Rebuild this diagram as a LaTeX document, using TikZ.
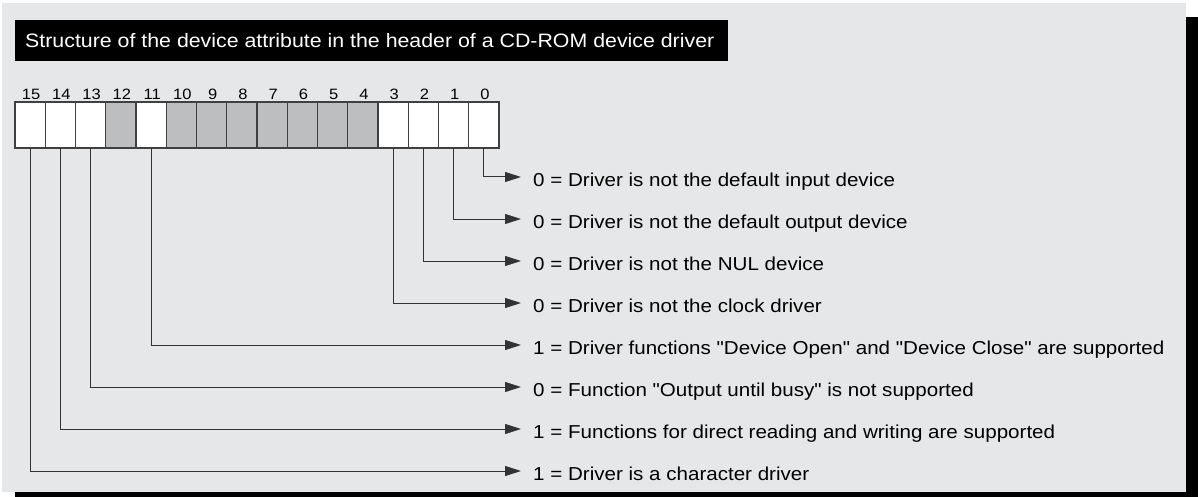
\documentclass[tikz,border=0pt]{standalone}
\usepackage{fontspec}
\setmainfont{Liberation Sans}[FakeStretch=1.1,Ligatures=TeXOff]
\usetikzlibrary{arrows.meta,positioning,calc}
\definecolor{panelgrey}{HTML}{E6E7E8}
\definecolor{cellgrey}{HTML}{BCBEC0}

\begin{document}
\begin{tikzpicture}[x=1pt,y=-1pt,
  bitbox/.style={draw=black!75,line width=1.2pt,minimum width=30.25pt,minimum height=46pt,inner sep=0pt,outer sep=0pt},
  bitnum/.style={anchor=base,inner sep=0pt,font=\fontsize{15}{16}\selectfont},
  desc/.style={anchor=base west,inner xsep=12pt,inner ysep=0pt,font=\fontsize{18.7}{20}\selectfont},
  conn/.style={draw=black!80,line width=1pt,-{Triangle[length=16pt,width=10pt]}}]
  \useasboundingbox (0,0) rectangle (1198,497);
  \fill[black] (15,17) rectangle (1198,497); % Schatten
  \fill[panelgrey] (2,3) rectangle (1186,492);
  \node[fill=black,text=white,anchor=north west,minimum height=41pt,inner sep=0pt,
        font=\fontsize{19.4}{21}\selectfont] (title) at (15,20)
        {\makebox[713pt][l]{\hspace*{10pt}Structure of the device attribute in the header of a CD-ROM device driver}};
  % Bits 15 ... 0
  \foreach \b/\c in {15/white,14/white,13/white,12/cellgrey,11/white,10/cellgrey,9/cellgrey,8/cellgrey,
                     7/cellgrey,6/cellgrey,5/cellgrey,4/cellgrey,3/white,2/white,1/white,0/white}{
    \pgfmathsetmacro\bx{15+(15-\b)*30.25+15.125}
    \node[bitbox,fill=\c] (b\b) at (\bx,125) {};
    \node[bitnum] (n\b) at (\bx+1,100) {\b};
  }
  % Bedeutung der Bits
  \foreach \b/\k/\t in {0/0/{0 = Driver is not the default input device},
                        1/1/{0 = Driver is not the default output device},
                        2/2/{0 = Driver is not the NUL device},
                        3/3/{0 = Driver is not the clock driver},
                        11/4/{1 = Driver functions "Device Open" and "Device Close" are supported},
                        13/5/{0 = Function "Output until busy" is not supported},
                        14/6/{1 = Functions for direct reading and writing are supported},
                        15/7/{1 = Driver is a character driver}}{
    \node[desc] (t\k) at (521,177+42*\k+9) {\t};
    \draw[conn] (b\b.south) |- ([yshift=9pt]t\k.base west);
  }
\end{tikzpicture}
\end{document}
